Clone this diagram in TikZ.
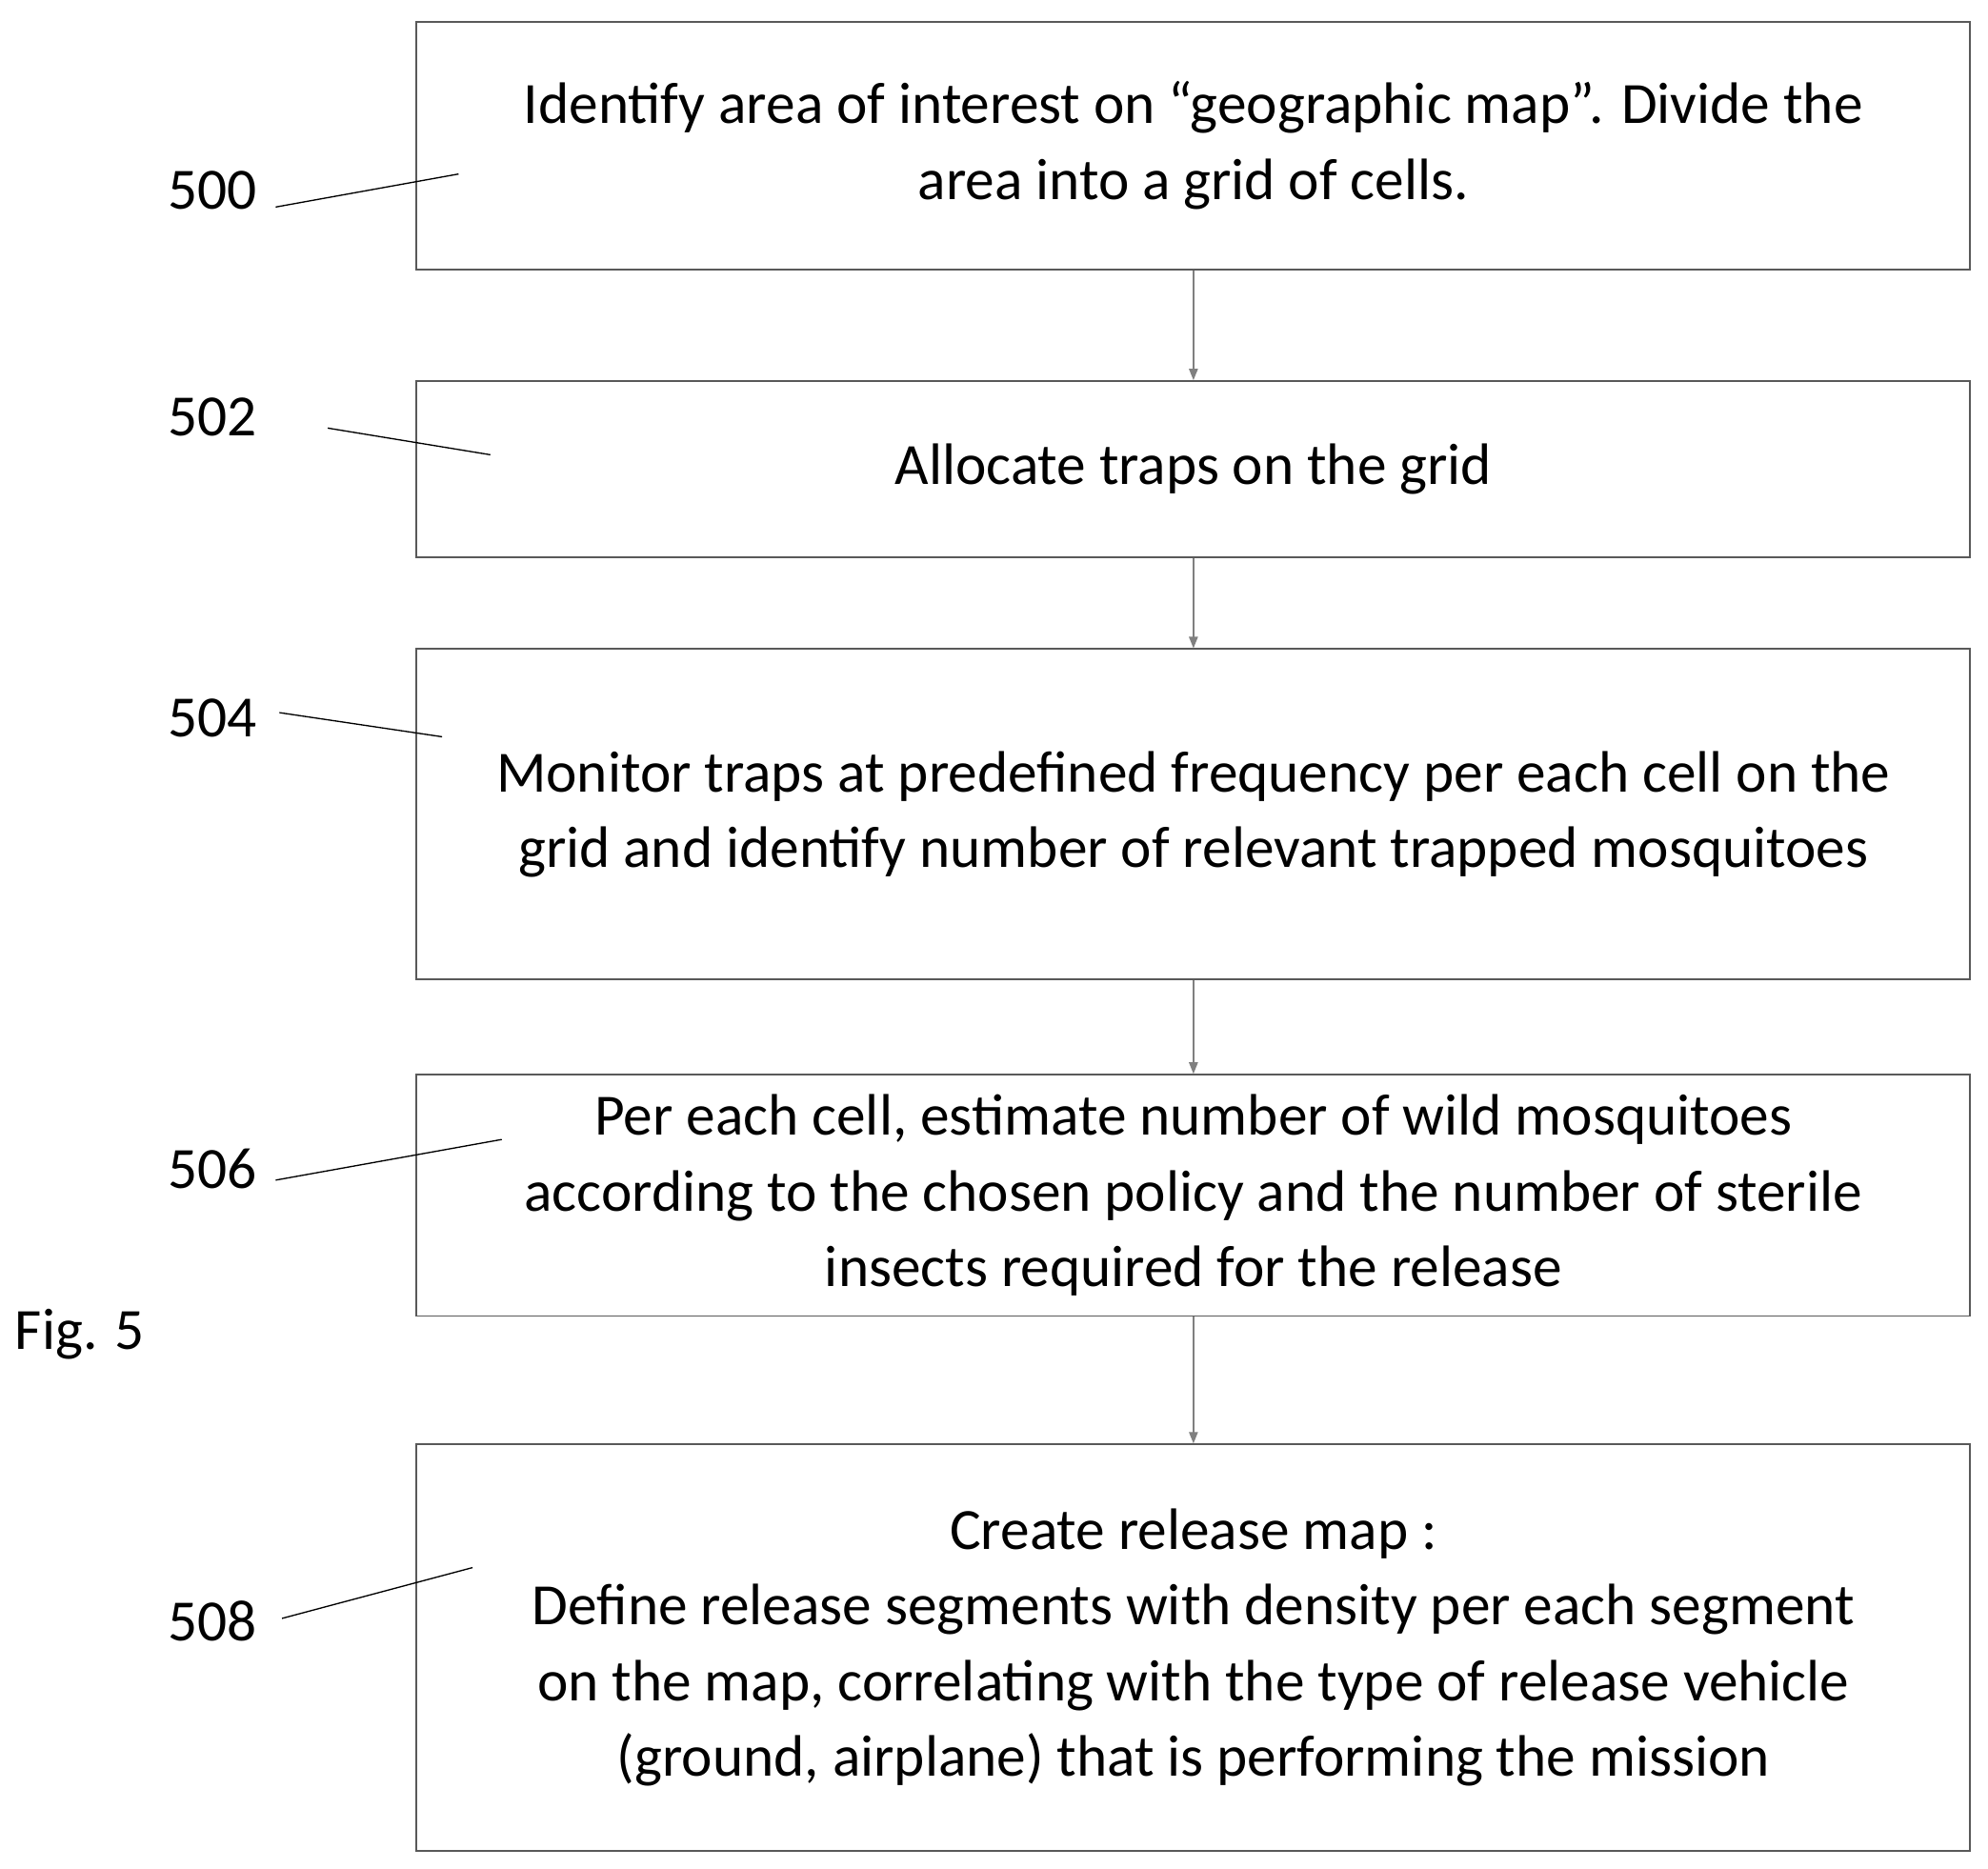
\documentclass[tikz,border=0pt]{standalone}
\usepackage{fontspec}
\setmainfont{Carlito}
\usetikzlibrary{positioning,arrows.meta}

\tikzset{
  stage/.style={draw=gray!70!black, line width=1.4pt, minimum width=1223pt, align=center, inner sep=0pt,
    font=\fontsize{46}{59.5}\selectfont},
  flow/.style={draw=gray, line width=1pt, -{Triangle[length=9pt,width=7pt]}},
  tag/.style={font=\fontsize{46}{50}\selectfont},
  lead/.style={draw=black, line width=1pt}
}

\begin{document}
\begin{tikzpicture}[x=1pt,y=1pt]
\useasboundingbox (0,0) rectangle (1565,1471);
% steps
\node[stage, minimum height=195pt] (s500) at (939.5,1356.5) {Identify area of interest on “geographic map”. Divide the\\area into a grid of cells.};
\node[stage, minimum height=139pt] (s502) at (939.5,1101.5) {Allocate traps on the grid};
\node[stage, minimum height=260pt] (s504) at (939.5,830) {Monitor traps at predefined frequency per each cell on the\\grid and identify number of relevant trapped mosquitoes};
\node[stage, minimum height=190pt] (s506) at (939.5,530) {Per each cell, estimate number of wild mosquitoes\\according to the chosen policy and the number of sterile\\insects required for the release};
\node[stage, minimum height=320pt] (s508) at (939.5,174) {Create release map :\\Define release segments with density per each segment\\on the map, correlating with the type of release vehicle\\(ground, airplane) that is performing the mission};
\draw[flow] (s500) -- (s502);
\draw[flow] (s502) -- (s504);
\draw[flow] (s504) -- (s506);
\draw[flow] (s506) -- (s508);
% reference numerals
\node[tag] (n500) at (167,1321) {500};
\node[tag] (n502) at (167,1143) {502};
\node[tag] (n504) at (167,906) {504};
\node[tag] (n506) at (167,551) {506};
\node[tag] (n508) at (167,195) {508};
\node[tag] (fig) at (63,421) {Fig. 5};
\coordinate (e500) at (361,1334);
\coordinate (e502) at (386,1113);
\coordinate (e504) at (348,891);
\coordinate (e506) at (395,574);
\coordinate (e508) at (372,237);
\draw[lead] (217,1308) -- (e500);
\draw[lead] (258,1134) -- (e502);
\draw[lead] (220,910) -- (e504);
\draw[lead] (217,542) -- (e506);
\draw[lead] (222,197) -- (e508);
\end{tikzpicture}
\end{document}
